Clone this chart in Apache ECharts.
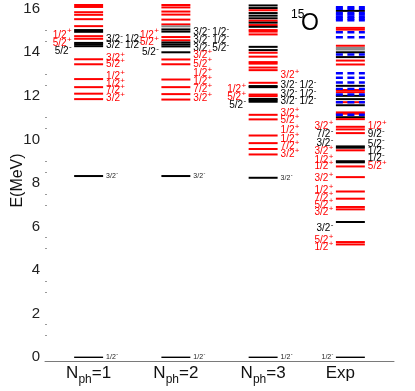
<!DOCTYPE html>
<html>
<head>
<meta charset="utf-8">
<script src="https://cdn.jsdelivr.net/npm/echarts@6/dist/echarts.min.js"></script>
<style>
  html, body { margin: 0; padding: 0; background: #fff; }
  #chart { width: 415px; height: 391px; }
</style>
</head>
<body>
<div id="chart"></div>
<script>
  const FONT = '"Liberation Sans", Arial, Helvetica, sans-serif';

  const columns = ['N_ph=1', 'N_ph=2', 'N_ph=3', 'Exp'];
  const yLabelValues = [0, 2, 4, 6, 8, 10, 12, 14, 16];
  const yTickValues = [1, 1.5, 3, 3.5, 5, 5.5, 7, 7.5, 8.5, 9, 10.5, 11, 12.5, 13, 14.5, 15];

  // levels: [E (MeV), parity]  p = +, n = -, g = unresolved (grey), u = unassigned (dashed)
  const levelsNph1 = [
    [16.17, 'p'], [16.08, 'p'], [15.84, 'p'], [15.72, 'p'], [15.52, 'p'], [15.2, 'p'],
    [15.02, 'n'], [14.94, 'n'], [14.74, 'p'], [14.62, 'p'], [14.43, 'n'], [14.36, 'n'],
    [14.28, 'n'], [13.68, 'p'], [13.45, 'p'], [12.77, 'p'], [12.4, 'p'], [12.1, 'p'],
    [11.85, 'p'], [8.32, 'n'], [0, 'n'],
  ];
  const levelsNph2 = [
    [16.17, 'p'], [16.06, 'p'], [15.87, 'p'], [15.73, 'p'], [15.5, 'p'], [15.28, 'p'],
    [15.19, 'g'], [15.05, 'n'], [14.95, 'n'], [14.7, 'p'], [14.55, 'p'], [14.45, 'n'],
    [14.36, 'n'], [14.27, 'n'], [14.0, 'n'], [13.67, 'p'], [13.45, 'p'], [12.75, 'p'],
    [12.4, 'p'], [12.08, 'p'], [11.83, 'p'], [8.32, 'n'], [0, 'n'],
  ];
  const levelsNph3 = [
    [16.15, 'n'], [16.03, 'n'], [15.93, 'p'], [15.8, 'n'], [15.68, 'n'], [15.56, 'n'],
    [15.45, 'p'], [15.36, 'n'], [15.25, 'p'], [15.17, 'n'], [15.02, 'p'], [14.95, 'p'],
    [14.82, 'p'], [14.25, 'n'], [14.1, 'n'], [13.98, 'p'], [13.8, 'p'], [13.55, 'p'],
    [13.48, 'p'], [13.3, 'p'], [13.18, 'p'], [12.6, 'p'], [12.45, 'n'], [12.4, 'n'],
    [12.06, 'p'], [11.99, 'p'], [11.86, 'n'], [11.8, 'n'], [11.73, 'n'], [11.13, 'p'],
    [10.92, 'p'], [10.18, 'p'], [9.83, 'p'], [9.56, 'p'], [9.31, 'p'], [8.24, 'n'], [0, 'n'],
  ];
  const levelsExp = [
    [16.07, 'u'], [16.0, 'u'], [15.9, 'n'], [15.8, 'u'], [15.73, 'u'], [15.63, 'u'],
    [15.55, 'u'], [15.47, 'u'], [15.12, 'p'], [15.04, 'p'], [14.92, 'u'], [14.69, 'u'],
    [14.3, 'p'], [14.2, 'g'], [14.13, 'g'], [14.0, 'n'], [13.9, 'u'], [13.78, 'n'],
    [13.62, 'p'], [13.44, 'p'], [13.04, 'u'], [12.83, 'u'], [12.61, 'u'], [12.46, 'n'],
    [12.32, 'u'], [12.27, 'p'], [12.17, 'p'], [12.06, 'u'], [12.0, 'n'], [11.85, 'n'],
    [11.71, 'p'], [11.71, 'u'], [11.57, 'n'], [11.24, 'p'], [11.18, 'p'], [11.13, 'u'],
    [11.02, 'n'], [10.93, 'p'], [10.58, 'p'], [10.46, 'p'], [10.29, 'p'], [9.68, 'n'],
    [9.62, 'n'], [9.5, 'p'], [9.0, 'n'], [8.95, 'n'], [8.76, 'p'], [8.27, 'p'], [7.61, 'p'],
    [7.28, 'p'], [6.9, 'p'], [6.79, 'p'], [6.21, 'n'], [5.29, 'p'], [5.18, 'p'], [0, 'n'],
  ];

  // spin-parity labels: [E where the label sits, text, side]
  const labelsNph1 = [
    [14.8, '1/2+', 'L'], [14.42, '5/2+', 'L'], [14.07, '5/2-', 'L'],
    [14.6, '3/2- 1/2-', 'R'], [14.33, '3/2- 1/2-', 'R'], [13.73, '3/2+', 'R'],
    [13.43, '5/2+', 'R'], [12.89, '1/2+', 'R'], [12.52, '1/2+', 'R'], [12.25, '7/2+', 'R'],
    [11.87, '3/2+', 'R'],
  ];
  const labelsNph2 = [
    [14.8, '1/2+', 'L'], [14.46, '5/2+', 'L'], [13.98, '5/2-', 'L'],
    [14.92, '3/2- 1/2-', 'R'], [14.57, '3/2- 1/2-', 'R'], [14.19, '3/2- 5/2-', 'R'],
    [13.85, '3/2+', 'R'], [13.47, '5/2+', 'R'], [13.04, '1/2+', 'R'], [12.67, '1/2+', 'R'],
    [12.29, '7/2+', 'R'], [11.89, '3/2+', 'R'],
  ];
  const labelsNph3 = [
    [12.94, '3/2+', 'R'], [12.48, '3/2- 1/2-', 'R'], [12.06, '3/2- 1/2-', 'R'],
    [11.76, '3/2- 1/2-', 'R'], [11.21, '3/2+', 'R'], [10.87, '5/2+', 'R'], [10.41, '1/2+', 'R'],
    [10.03, '1/2+', 'R'], [9.69, '7/2+', 'R'], [9.31, '3/2+', 'R'],
    [12.29, '1/2+', 'L'], [11.94, '5/2+', 'L'], [11.59, '5/2-', 'L'],
  ];
  const labelsExp = [
    [10.62, '3/2+', 'L'], [10.24, '7/2-', 'L'], [9.82, '3/2-', 'L'], [9.46, '3/2+', 'L'],
    [9.04, '1/2+', 'L'], [8.76, '1/2+', 'L'], [8.21, '3/2+', 'L'], [7.66, '1/2+', 'L'],
    [7.32, '7/2+', 'L'], [7.0, '5/2+', 'L'], [6.65, '3/2+', 'L'], [5.92, '3/2-', 'L'],
    [5.38, '5/2+', 'L'], [5.05, '1/2+', 'L'],
    [10.62, '1/2+', 'R'], [10.24, '9/2-', 'R'], [9.8, '5/2-', 'R'], [9.47, '1/2-', 'R'],
    [9.12, '1/2-', 'R'], [8.77, '5/2+', 'R'],
  ];
  // isolated low-lying levels, small labels: [column, E, text, side]
  const isolatedLabels = [
    [0, 8.32, '3/2-', 'R'], [1, 8.32, '3/2-', 'R'], [2, 8.24, '3/2-', 'R'],
    [0, 0.02, '1/2-', 'R'], [1, 0.02, '1/2-', 'R'], [2, 0.02, '1/2-', 'R'], [3, 0.02, '1/2-', 'L'],
  ];

  const COLORS = { p: '#ff0000', n: '#000000', g: '#8a8a8a', u: '#0000ff' };

  const levelRows = [];
  [levelsNph1, levelsNph2, levelsNph3, levelsExp].forEach((list, col) => {
    list.forEach(([e, k]) => levelRows.push({ col, e, k }));
  });
  // dashed (unassigned) levels drawn on top
  levelRows.sort((a, b) => (a.k === 'u') - (b.k === 'u'));

  const labelRows = [];
  [labelsNph1, labelsNph2, labelsNph3, labelsExp].forEach((list, col) => {
    list.forEach(([e, text, side]) => labelRows.push({ col, e, text, side, small: false }));
  });
  isolatedLabels.forEach(([col, e, text, side]) => labelRows.push({ col, e, text, side, small: true }));

  // J^pi label as text pieces: "3/2" plus a raised parity sign
  const buildLabel = (r, anchorX, y) => {
    const fs = r.small ? 7 : 10;
    const sfs = r.small ? 5.5 : 8;
    const mainW = fs * 1.39; // "d/2" width in Liberation Sans
    const step = r.small ? 13 : 19;
    const tokens = r.text.split(' ');
    const lastSign = tokens[tokens.length - 1].slice(-1);
    const total = (tokens.length - 1) * step + mainW + 0.3 + sfs * (lastSign === '+' ? 0.584 : 0.333);
    const x0 = r.side === 'R' ? anchorX : anchorX - total;
    const children = [];
    tokens.forEach((t, i) => {
      const sign = t.slice(-1);
      const fill = r.small ? '#222' : sign === '+' ? '#ff0000' : '#000000';
      const x = x0 + i * step;
      children.push({
        type: 'text', x, y,
        style: { text: t.slice(0, -1), fill, fontSize: fs, fontFamily: FONT, verticalAlign: 'middle' },
      });
      children.push({
        type: 'text', x: x + mainW + 0.3, y: y - fs * 0.36,
        style: { text: sign, fill, fontSize: sfs, fontFamily: FONT, verticalAlign: 'middle' },
      });
    });
    return { type: 'group', children };
  };

  const chart = echarts.init(document.getElementById('chart'));

  const option = {
    animation: false,
    textStyle: { fontFamily: FONT },
    grid: { left: 45, right: 21, top: 0, bottom: 30, outerBoundsMode: 'none' },
    graphic: [
      { type: 'text', left: 291, top: 9, style: { text: '15', fontSize: 12, fontFamily: FONT, fill: '#000' } },
      { type: 'text', left: 301, top: 12, style: { text: 'O', fontSize: 23, fontFamily: FONT, fill: '#000' } },
    ],
    xAxis: {
      type: 'category',
      data: columns.map((c) => (c === 'Exp' ? { value: c, textStyle: { padding: [0, 20, 0, 0] } } : c)),
      axisLine: { onZero: false, lineStyle: { color: '#7a7a7a', width: 1 } },
      axisTick: { show: false },
      axisLabel: {
        interval: 0,
        margin: 4,
        formatter: (v) => {
          if (v.indexOf('N_') === 0) {
            const parts = v.split('=');
            return `{n|N}{sub|ph}{n|=${parts[1]}}`;
          }
          return `{n|${v}}`;
        },
        rich: {
          n: { fontSize: 17, color: '#111', lineHeight: 18, verticalAlign: 'top' },
          sub: { fontSize: 12, color: '#111', lineHeight: 12, verticalAlign: 'top', padding: [9, 0, 0, 0] },
        },
      },
    },
    yAxis: {
      type: 'value',
      min: -0.17,
      max: 16.4,
      name: 'E(MeV)',
      nameLocation: 'middle',
      nameGap: 19,
      nameMoveOverlap: false,
      nameTextStyle: { fontSize: 16, color: '#111' },
      axisLine: { show: false },
      splitLine: { show: false },
      axisTick: { show: true, inside: true, length: 2, customValues: yTickValues, lineStyle: { color: '#999' } },
      axisLabel: { customValues: yLabelValues, fontSize: 15, color: '#222', margin: 5 },
    },
    series: [
      {
        type: 'custom',
        silent: true,
        data: levelRows.map((r) => [r.col, r.e]),
        renderItem: (params, api) => {
          const r = levelRows[params.dataIndex];
          const c = api.coord([api.value(0), api.value(1)]);
          const half = api.size([1, 0])[0] * 0.166;
          return {
            type: 'line',
            shape: { x1: c[0] - half, y1: c[1], x2: c[0] + half, y2: c[1] },
            style: {
              stroke: COLORS[r.k],
              lineWidth: r.e === 0 ? 1.4 : r.k === 'u' ? 2.4 : 2,
              lineDash: r.k === 'u' ? [7, 4.5] : null,
            },
          };
        },
      },
      {
        type: 'custom',
        silent: true,
        data: labelRows.map((r) => [r.col, r.e]),
        renderItem: (params, api) => {
          const r = labelRows[params.dataIndex];
          const c = api.coord([api.value(0), api.value(1)]);
          const half = api.size([1, 0])[0] * 0.166;
          const anchorX = r.side === 'R' ? c[0] + half + 3 : c[0] - half - 2.5;
          return buildLabel(r, anchorX, c[1]);
        },
      },
    ],
  };

  chart.setOption(option);
</script>
</body>
</html>
